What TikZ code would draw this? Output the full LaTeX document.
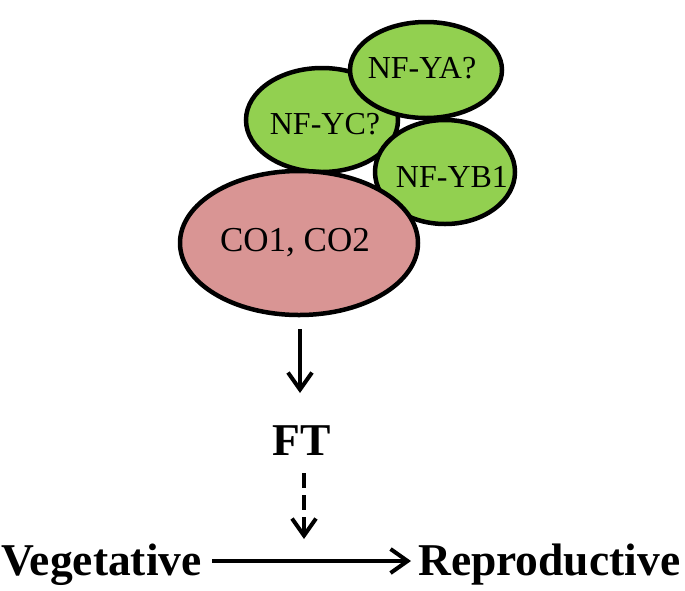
\documentclass[tikz,border=0pt]{standalone}
\usepackage{fontspec}
\setmainfont{Liberation Serif}
\usetikzlibrary{arrows.meta,shapes.geometric}
\definecolor{nfgreen}{HTML}{92D050}
\definecolor{copink}{HTML}{D99594}
\begin{document}
\begin{tikzpicture}[x=1pt,y=-1pt,
  blob/.style={ellipse,draw=black,line width=4.5pt,inner sep=0pt},
  greenblob/.style={blob,fill=nfgreen},
  pinkblob/.style={blob,fill=copink},
  small/.style={inner sep=0pt,font=\fontsize{32}{32}\selectfont},
  lbl/.style={inner sep=0pt,font=\fontsize{45.5}{45.5}\selectfont\bfseries},
  arr/.style={line width=4pt,-{Straight Barb[length=17pt,width=24pt,line width=4pt]}}
]
\useasboundingbox (0,0) rectangle (685,590);
\node[greenblob,minimum width=152pt,minimum height=104pt] (yc) at (322,120) {};
\node[greenblob,minimum width=140pt,minimum height=104pt] (yb) at (445,172) {};
\node[greenblob,minimum width=152pt,minimum height=96pt] (ya) at (426,70) {};
\node[pinkblob,minimum width=238pt,minimum height=144pt] (co) at (299,243) {};
\node[small] (tyc) at (325,124) {NF-YC?};
\node[small] (tyb) at (452,177) {NF-YB1};
\node[small] (tya) at (422,68) {NF-YA?};
\node[small,font=\fontsize{35}{35}\selectfont] (tco) at (295,243) {CO1, CO2};
\node[lbl,anchor=base] (ft) at (302,455) {FT};
\node[lbl,anchor=base west] (veg) at (1,575) {Vegetative};
\node[lbl,anchor=base west] (rep) at (418,575) {Reproductive};
\coordinate (a1s) at (300,329);
\coordinate (a1e) at (300,393);
\coordinate (a2s) at (304,473);
\coordinate (a2e) at (304,539);
\coordinate (hs) at (212,561);
\coordinate (he) at (411,561);
\draw[arr] (a1s) -- (a1e);
\draw[arr,line width=4.5pt,dash pattern=on 15pt off 7pt] (a2s) -- (a2e);
\draw[arr] (hs) -- (he);
\end{tikzpicture}
\end{document}
